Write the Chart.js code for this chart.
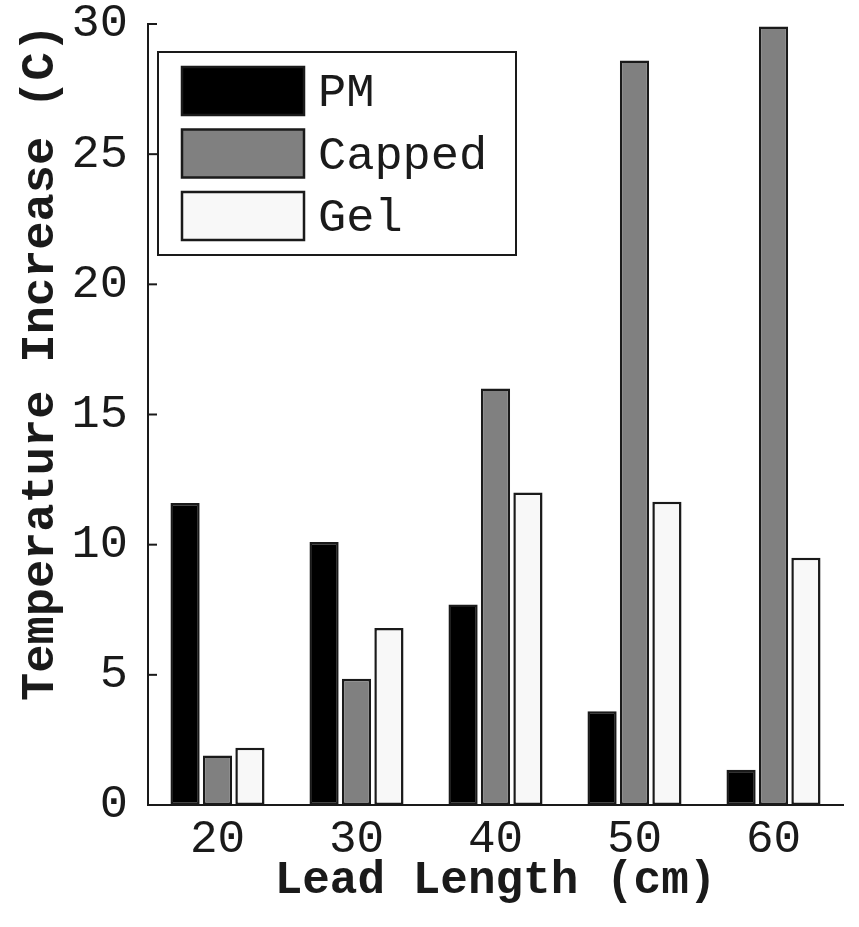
<!DOCTYPE html>
<html>
<head>
<meta charset="utf-8">
<script src="https://cdn.jsdelivr.net/npm/chart.js@4/dist/chart.umd.min.js"></script>
<style>
    html, body { margin: 0; padding: 0; background: #fff; }
    #wrap { width: 859px; height: 927px; }
</style>
</head>
<body>
<div id="wrap"><canvas id="chartCanvas"></canvas></div>
<script>
// lead lengths (cm)
const leadLengths = ['20', '30', '40', '50', '60']
// temperature increase (C)
const pmValues = [11.6, 10.1, 7.7, 3.6, 1.35]
const cappedValues = [1.9, 4.85, 16.0, 28.6, 29.9]
const gelValues = [2.2, 6.8, 12.0, 11.65, 9.5]
const yTicks = [0, 5, 10, 15, 20, 25, 30]

const monoFont = '"Liberation Mono", "Courier New", monospace'
const inkColor = '#1a1a1a'

// ticks on the y axis point inwards
const inwardTicks = {
    id: 'inwardTicks',
    afterDatasetsDraw(chart) {
        const ctx = chart.ctx
        const y = chart.scales.y
        ctx.save()
        ctx.strokeStyle = inkColor
        ctx.lineWidth = 2
        yTicks.forEach(v => {
            const py = y.getPixelForValue(v)
            ctx.beginPath()
            ctx.moveTo(chart.chartArea.left, py)
            ctx.lineTo(chart.chartArea.left + 9, py)
            ctx.stroke()
        })
        ctx.restore()
    }
}

// legend box drawn inside the plot, top left
const boxLegend = {
    id: 'boxLegend',
    afterDraw(chart) {
        const ctx = chart.ctx
        const area = chart.chartArea
        const bx = area.left + 10
        const by = area.top + 28
        ctx.save()
        ctx.fillStyle = '#fff'
        ctx.fillRect(bx, by, 358, 203)
        ctx.strokeStyle = inkColor
        ctx.lineWidth = 2
        ctx.strokeRect(bx, by, 358, 203)
        ctx.font = '47px ' + monoFont
        ctx.textBaseline = 'middle'
        chart.data.datasets.forEach((ds, i) => {
            const sy = by + 15 + i * 62.5
            ctx.fillStyle = ds.backgroundColor
            ctx.fillRect(bx + 24, sy, 122, 48)
            ctx.strokeStyle = inkColor
            ctx.lineWidth = 2.5
            ctx.strokeRect(bx + 24, sy, 122, 48)
            ctx.fillStyle = inkColor
            ctx.fillText(ds.label, bx + 160, sy + 27)
        })
        ctx.restore()
    }
}

const chartData = {
    labels: leadLengths,
    datasets: [
        { label: 'PM', data: pmValues, backgroundColor: '#000000' },
        { label: 'Capped', data: cappedValues, backgroundColor: '#808080' },
        { label: 'Gel', data: gelValues, backgroundColor: '#f8f8f8' }
    ].map(d => Object.assign(d, {
        borderColor: inkColor,
        borderWidth: 2.5,
        borderSkipped: false,
        categoryPercentage: 0.7,
        barPercentage: 0.9
    }))
}

const config = {
    type: 'bar',
    data: chartData,
    options: {
        responsive: true,
        maintainAspectRatio: false,
        animation: false,
        layout: { padding: { top: 24, right: 16, left: 0, bottom: 0 } },
        plugins: {
            legend: { display: false },
            tooltip: { enabled: false }
        },
        scales: {
            x: {
                grid: { display: false },
                border: { display: true, color: inkColor, width: 2 },
                ticks: {
                    color: inkColor,
                    padding: 4,
                    font: { family: monoFont, size: 46, lineHeight: 1 }
                },
                title: {
                    display: true,
                    text: 'Lead Length (cm)',
                    color: inkColor,
                    padding: 23,
                    font: { family: monoFont, size: 46, weight: 'bold', lineHeight: 1 }
                },
                afterFit(scale) { scale.height = 122 }
            },
            y: {
                min: 0,
                max: 30,
                grid: { display: false },
                border: { display: true, color: inkColor, width: 2 },
                afterBuildTicks(scale) { scale.ticks = yTicks.map(v => ({ value: v })) },
                ticks: {
                    color: inkColor,
                    padding: 12,
                    font: { family: monoFont, size: 47, lineHeight: 1 }
                },
                title: {
                    display: true,
                    text: 'Temperature Increase (C)',
                    align: 'end',
                    color: inkColor,
                    padding: 18,
                    font: { family: monoFont, size: 47, weight: 'bold', lineHeight: 1 }
                },
                afterFit(scale) {
                    scale.width = 148
                    scale.paddingTop = 0
                    scale.paddingBottom = 0
                }
            }
        }
    },
    plugins: [inwardTicks, boxLegend]
}

const myChart = new Chart(document.getElementById('chartCanvas'), config)
</script>
</body>
</html>
